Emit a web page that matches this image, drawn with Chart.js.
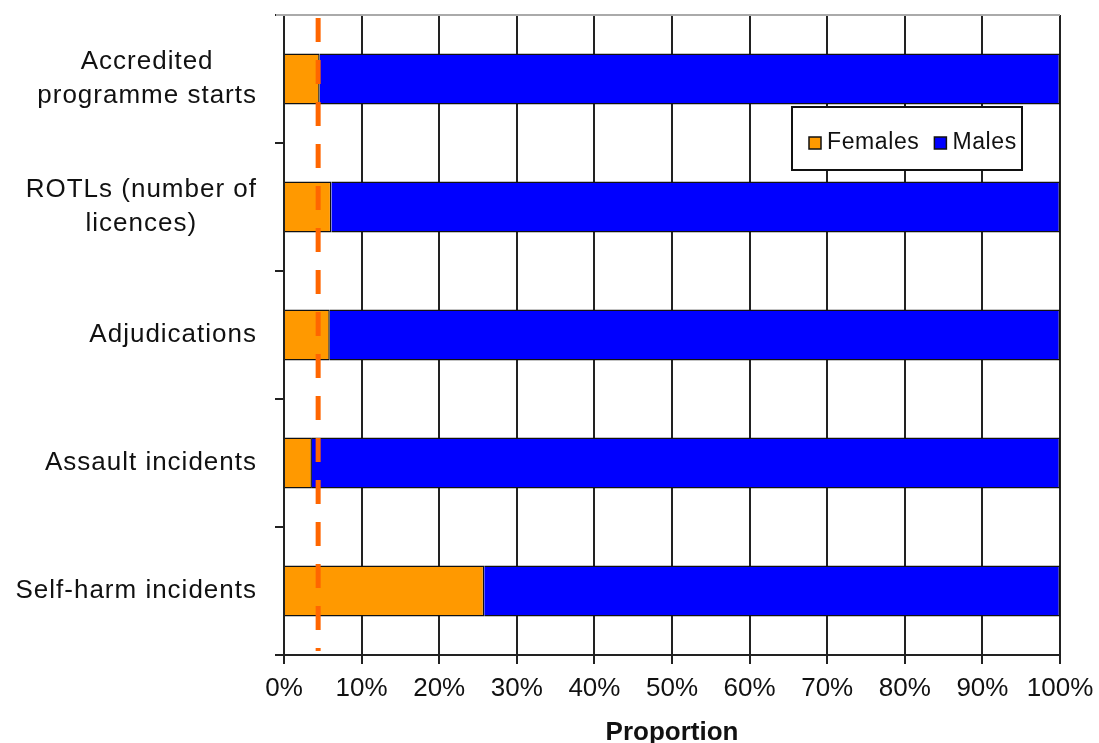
<!DOCTYPE html>
<html>
<head>
<meta charset="utf-8">
<script src="https://cdn.jsdelivr.net/npm/chart.js@4.4.0/dist/chart.umd.min.js"></script>
<style>
  html, body { margin:0; padding:0; background:#fff; }
  #wrap { width:1099px; height:743px; }
</style>
</head>
<body>
<div id="wrap"><canvas id="chart" width="1099" height="743"></canvas></div>
<script>
// Female vs male share of each measure (per cent)
const categories = [
  ['Accredited', 'programme starts'],
  ['ROTLs (number of', 'licences)'],
  ['Adjudications'],
  ['Assault incidents'],
  ['Self-harm incidents']
];
const femalesPct = [4.6, 6.1, 5.9, 3.6, 25.8];
const malesPct = [95.4, 93.9, 94.1, 96.4, 74.2];
const femalePopulationShare = 4.4; // dashed reference line
const seriesNames = ['Females', 'Males'];
const seriesColors = ['#FF9900', '#0000FF'];
const xTickStep = 10;

const FONT = '"Liberation Sans", Arial, sans-serif';

// y labels: each block centred on its own widest line, right edge fixed
const yLabelsPlugin = {
  id: 'yLabels',
  afterDraw(chart){
    const { ctx, chartArea } = chart;
    const ys = chart.scales.y;
    const right = chartArea.left - 27;
    ctx.save();
    ctx.font = '26px ' + FONT;
    ctx.letterSpacing = '1px';
    ctx.fillStyle = '#111';
    ctx.textAlign = 'center';
    ctx.textBaseline = 'middle';
    categories.forEach((lines, i) => {
      const yc = ys.getPixelForValue(i);
      const widest = Math.max(...lines.map(l => ctx.measureText(l).width));
      const cx = right - widest / 2;
      lines.forEach((l, j) => ctx.fillText(l, cx, yc + (j - (lines.length - 1) / 2) * 34));
    });
    ctx.letterSpacing = '0px';
    ctx.restore();
  }
};

// top border + dashed reference line + legend box
const extrasPlugin = {
  id: 'extras',
  beforeDatasetsDraw(chart){
    const { ctx, chartArea } = chart;
    ctx.save();
    ctx.strokeStyle = '#aaa';
    ctx.lineWidth = 2;
    ctx.beginPath(); ctx.moveTo(chartArea.left - 8, chartArea.top); ctx.lineTo(chartArea.right, chartArea.top); ctx.stroke();
    ctx.restore();
  },
  afterDatasetsDraw(chart){
    const { ctx, chartArea } = chart;
    const x = chart.scales.x.getPixelForValue(femalePopulationShare);
    ctx.save();
    ctx.beginPath(); ctx.rect(chartArea.left, chartArea.top, chartArea.right - chartArea.left, chartArea.bottom - chartArea.top - 4); ctx.clip();
    ctx.strokeStyle = '#FF6600';
    ctx.lineWidth = 5;
    ctx.setLineDash([24, 18]);
    ctx.beginPath(); ctx.moveTo(x, chartArea.top + 3); ctx.lineTo(x, chartArea.bottom); ctx.stroke();
    ctx.restore();

    // legend
    const lx = chartArea.right - 268, ly = chartArea.top + 92, lw = 230, lh = 63;
    ctx.save();
    ctx.fillStyle = '#fff';
    ctx.fillRect(lx, ly, lw, lh);
    ctx.strokeStyle = '#111';
    ctx.lineWidth = 2;
    ctx.strokeRect(lx, ly, lw, lh);
    ctx.font = '23px ' + FONT;
    ctx.letterSpacing = '0.6px';
    ctx.textBaseline = 'middle';
    const cy = ly + 36;
    let px = lx + 17;
    seriesNames.forEach((name, i) => {
      ctx.fillStyle = seriesColors[i];
      ctx.fillRect(px, cy - 6, 12, 12);
      ctx.strokeStyle = '#111';
      ctx.lineWidth = 1.5;
      ctx.strokeRect(px, cy - 6, 12, 12);
      ctx.fillStyle = '#111';
      ctx.fillText(name, px + 18, cy);
      px += 18 + ctx.measureText(name).width + 15;
    });
    ctx.letterSpacing = '0px';
    ctx.restore();
  }
};

new Chart(document.getElementById('chart'), {
  type: 'bar',
  data: {
    labels: categories,
    datasets: [
      { label: seriesNames[0], data: femalesPct, backgroundColor: seriesColors[0], borderColor: '#111', borderWidth: 1.5, barPercentage: 0.4, categoryPercentage: 1 },
      { label: seriesNames[1], data: malesPct, backgroundColor: seriesColors[1], borderColor: '#111', borderWidth: 1.5, barPercentage: 0.4, categoryPercentage: 1 }
    ]
  },
  options: {
    indexAxis: 'y',
    responsive: false,
    animation: false,
    layout: { padding: { top: 15, right: 39, left: 0, bottom: 0 } },
    plugins: { legend: { display: false }, tooltip: { enabled: false } },
    scales: {
      x: {
        stacked: true,
        min: 0, max: 100,
        ticks: { stepSize: xTickStep, callback: v => v + '%', color: '#111', font: { family: FONT, size: 26 }, padding: 9, maxRotation: 0 },
        grid: { color: '#222', lineWidth: 2, tickLength: 9, drawTicks: true },
        border: { color: '#222', width: 2 },
        title: { display: true, text: 'Proportion', color: '#111', font: { family: FONT, size: 26, weight: 'bold' }, padding: { top: 0, bottom: -5 } },
        afterFit(scale){ scale.height = 88; scale.paddingLeft = 0; scale.paddingRight = 0; }
      },
      y: {
        stacked: true,
        ticks: { display: false },
        grid: { offset: true, drawOnChartArea: false, color: '#222', lineWidth: 2, tickLength: 9 },
        border: { color: '#222', width: 2 },
        afterFit(scale){ scale.width = 284; }
      }
    }
  },
  plugins: [yLabelsPlugin, extrasPlugin]
});
</script>
</body>
</html>
